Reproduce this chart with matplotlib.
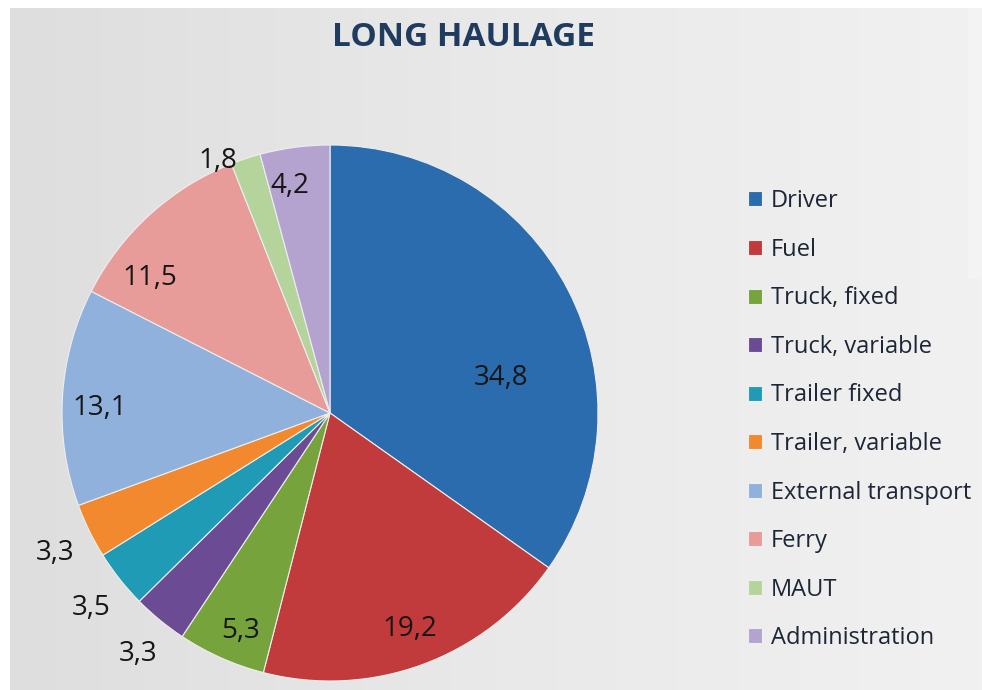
import numpy as np
import matplotlib
matplotlib.use("Agg")
import matplotlib.pyplot as plt
from matplotlib.patches import Rectangle
from matplotlib.colors import LinearSegmentedColormap

categories = ["Driver", "Fuel", "Truck, fixed", "Truck, variable", "Trailer fixed",
              "Trailer, variable", "External transport", "Ferry", "MAUT", "Administration"]
values = [34.8, 19.2, 5.3, 3.3, 3.5, 3.3, 13.1, 11.5, 1.8, 4.2]
value_labels = ["34,8", "19,2", "5,3", "3,3", "3,5", "3,3", "13,1", "11,5", "1,8", "4,2"]
title = "LONG HAULAGE"

colors = ["#2b6cae", "#c23b3c", "#76a33c", "#6b4c94", "#1f9bb6", "#f2892f",
          "#8fb1dc", "#e89c99", "#b5d49c", "#b5a3cf"]
label_r = [0.65, 0.86, 0.88, 1.15, 1.15, 1.15, 0.86, 0.84, 1.03, 0.86]
label_dang = [-15.8, 0, 1.6, 1.0, 0.8, 0.9, 2.2, 10.7, 5.5, 2.4]

W, H = 982, 690
fig = plt.figure(figsize=(W / 100, H / 100), dpi=100)
fig.patch.set_facecolor("white")

# background gradient panel
bg = fig.add_axes([10 / W, 0, 1 - 10 / W, (H - 8) / H], zorder=0)
grad = np.linspace(0, 1, 256)[None, :]
cmap = LinearSegmentedColormap.from_list("g", ["#dedede", "#e9e9e9", "#f1f1f1"])
bg.imshow(grad, aspect="auto", cmap=cmap, extent=[0, 1, 0, 1])
bg.add_patch(Rectangle((958 / (W - 10), (H - 278) / (H - 8)), 1, 1, color="#f3f3f3"))
bg.set_xlim(0, 1); bg.set_ylim(0, 1)
bg.axis("off")

cx, cy, R = 330, 413, 268
ax = fig.add_axes([(cx - R) / W, (H - cy - R) / H, 2 * R / W, 2 * R / H], zorder=1)
ax.set_facecolor("none")
wedges, _ = ax.pie(values, colors=colors, startangle=90, counterclock=False, radius=1,
                   wedgeprops=dict(edgecolor="#eeeeee", linewidth=0.8))
ax.set_xlim(-1, 1); ax.set_ylim(-1, 1)
ax.set_aspect("equal")
ax.axis("off")

for w, lab, r, da in zip(wedges, value_labels, label_r, label_dang):
    ang = np.deg2rad((w.theta1 + w.theta2) / 2 + da)
    ax.text(r * np.cos(ang), r * np.sin(ang), lab, ha="center", va="center",
            fontsize=20, family="Open Sans", color="#161616")

fig.text(463 / W, 1 - 37 / H, title, ha="center", va="center", fontsize=24,
         fontweight="bold", family="Open Sans", color="#1f3b5e")

leg = fig.legend(wedges, categories, loc="upper left", bbox_to_anchor=(727 / W, 1 - 168 / H),
                 frameon=False, prop=dict(family="Open Sans", size=17), labelspacing=1.04,
                 handlelength=0.6, handleheight=0.6, handletextpad=0.35, labelcolor="#1c2636")

fig.savefig("out.png", dpi=100)
